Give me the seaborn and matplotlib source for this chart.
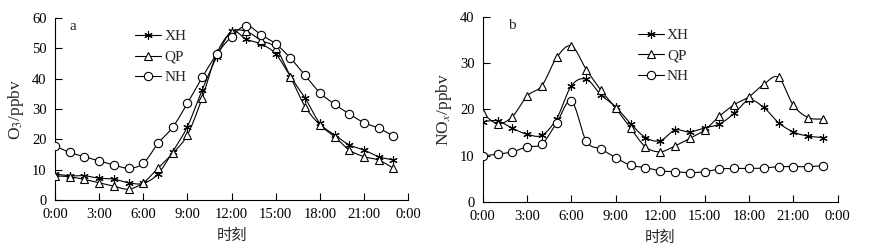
import numpy as np
import pandas as pd
import matplotlib
matplotlib.use('Agg')
import matplotlib.pyplot as plt
from matplotlib.lines import Line2D
import seaborn as sns

# hourly means, 0:00 .. 23:00
hours = list(range(24))
site_names = ['XH', 'QP', 'NH']

o3_xh = [8.6, 8.0, 8.0, 7.2, 6.9, 5.7, 5.5, 8.6, 16.0, 24.2, 36.3, 47.3,
         55.6, 53.0, 51.4, 48.2, 40.7, 33.6, 25.3, 21.5, 18.2, 16.5, 14.3, 13.2]
o3_qp = [8.0, 7.7, 6.8, 5.7, 4.6, 3.6, 5.7, 10.5, 15.4, 21.5, 33.6, 48.4,
         55.4, 55.6, 52.6, 50.1, 40.7, 30.8, 24.8, 20.9, 16.5, 14.3, 13.2, 10.5]
o3_nh = [17.8, 15.7, 14.3, 12.9, 11.6, 10.5, 12.1, 18.7, 24.0, 31.9, 40.4, 48.1,
         53.9, 57.5, 54.5, 51.5, 46.8, 41.1, 35.4, 31.6, 28.4, 25.5, 23.7, 21.1]

nox_xh = [17.3, 17.5, 15.9, 14.6, 14.4, 18.0, 25.1, 26.5, 23.1, 20.5, 16.9, 13.9,
          13.2, 15.5, 15.1, 16.0, 16.8, 19.1, 22.0, 20.4, 17.1, 15.1, 14.2, 13.9]
nox_qp = [19.1, 16.9, 18.4, 22.9, 25.1, 31.2, 33.7, 28.6, 24.1, 20.2, 15.9, 11.9,
          10.8, 12.1, 13.7, 15.5, 18.5, 21.0, 22.7, 25.4, 26.9, 20.9, 18.2, 17.9]
nox_nh = [9.9, 10.3, 10.8, 11.9, 12.5, 17.1, 21.8, 13.1, 11.4, 9.5, 7.9, 7.4,
          6.7, 6.5, 6.3, 6.5, 7.1, 7.2, 7.2, 7.3, 7.6, 7.6, 7.6, 7.8]

xtick_pos = [0, 3, 6, 9, 12, 15, 18, 21, 24]
xtick_labels = ['0:00', '3:00', '6:00', '9:00', '12:00', '15:00', '18:00', '21:00', '0:00']

sns.set_theme(style='ticks')
plt.rcParams['font.family'] = ['Liberation Serif', 'Noto Sans CJK SC']
plt.rcParams['mathtext.fontset'] = 'stix'
plt.rcParams['axes.unicode_minus'] = False

markers = {'XH': (6, 2, 0), 'QP': '^', 'NH': 'o'}


def smooth(x, y, n=10):
    # catmull-rom curve through the points, only for drawing the line
    x = np.asarray(x, float)
    y = np.asarray(y, float)
    px = np.concatenate([[x[0]], x, [x[-1]]])
    py = np.concatenate([[y[0]], y, [y[-1]]])
    xs, ys = [], []
    t = np.linspace(0, 1, n, endpoint=False)
    for i in range(1, len(px) - 2):
        for p, out in ((px, xs), (py, ys)):
            p0, p1, p2, p3 = p[i - 1], p[i], p[i + 1], p[i + 2]
            out.extend(0.5 * (2 * p1 + (-p0 + p2) * t
                              + (2 * p0 - 5 * p1 + 4 * p2 - p3) * t ** 2
                              + (-p0 + 3 * p1 - 3 * p2 + p3) * t ** 3))
    xs.append(x[-1])
    ys.append(y[-1])
    return np.array(xs), np.array(ys)


def draw_panel(ax, series, ymax, ystep, ylabel, tag, tag_x, leg_x):
    for name, vals in zip(site_names, series):
        sx, sy = smooth(hours, vals)
        sns.lineplot(x=sx, y=sy, ax=ax, color='black', lw=0.8,
                     estimator=None, sort=False, legend=False)
        ax.plot(hours, vals, ls='none', marker=markers[name], ms=6,
                mfc='white', mec='black', mew=0.8, zorder=3)
    ax.set_xlim(0, 24)
    ax.set_ylim(0, ymax)
    ax.set_xticks(xtick_pos)
    ax.set_xticklabels(xtick_labels)
    ax.set_yticks(np.arange(0, ymax + 1, ystep))
    ax.tick_params(direction='in', length=5, width=0.8, labelsize=10.5, pad=6,
                   colors='black')
    for s in ['left', 'bottom']:
        ax.spines[s].set_linewidth(0.8)
        ax.spines[s].set_color('black')
    sns.despine(ax=ax)
    ax.spines['bottom'].set_bounds(0, 24)
    ax.set_xlabel('时刻', fontsize=11, labelpad=4, family=['Noto Sans CJK SC'])
    ax.set_ylabel(ylabel, fontsize=12.5, labelpad=4)
    ax.text(tag_x, 0.99, tag, transform=ax.transAxes, fontsize=11,
            va='top', ha='left')
    handles = [Line2D([0], [0], color='black', lw=0.8, marker=markers[n], ms=6,
                      mfc='white', mec='black', mew=0.8) for n in site_names]
    ax.legend(handles, site_names, loc='upper left', bbox_to_anchor=(leg_x, 0.97),
              frameon=False, fontsize=11, handlelength=1.7, handletextpad=0.2,
              labelspacing=0.45, borderaxespad=0)


fig = plt.figure(figsize=(8.94, 2.47), dpi=100)
ax1 = fig.add_axes([0.0615, 0.19, 0.395, 0.737])
ax2 = fig.add_axes([0.540, 0.183, 0.397, 0.749])

draw_panel(ax1, [o3_xh, o3_qp, o3_nh], 60, 10, r'O$_3$/ppbv', 'a', 0.04, 0.21)
draw_panel(ax2, [nox_xh, nox_qp, nox_nh], 40, 10, r'NO$_x$/ppbv', 'b', 0.07, 0.42)

fig.savefig('out.png', dpi=100)
